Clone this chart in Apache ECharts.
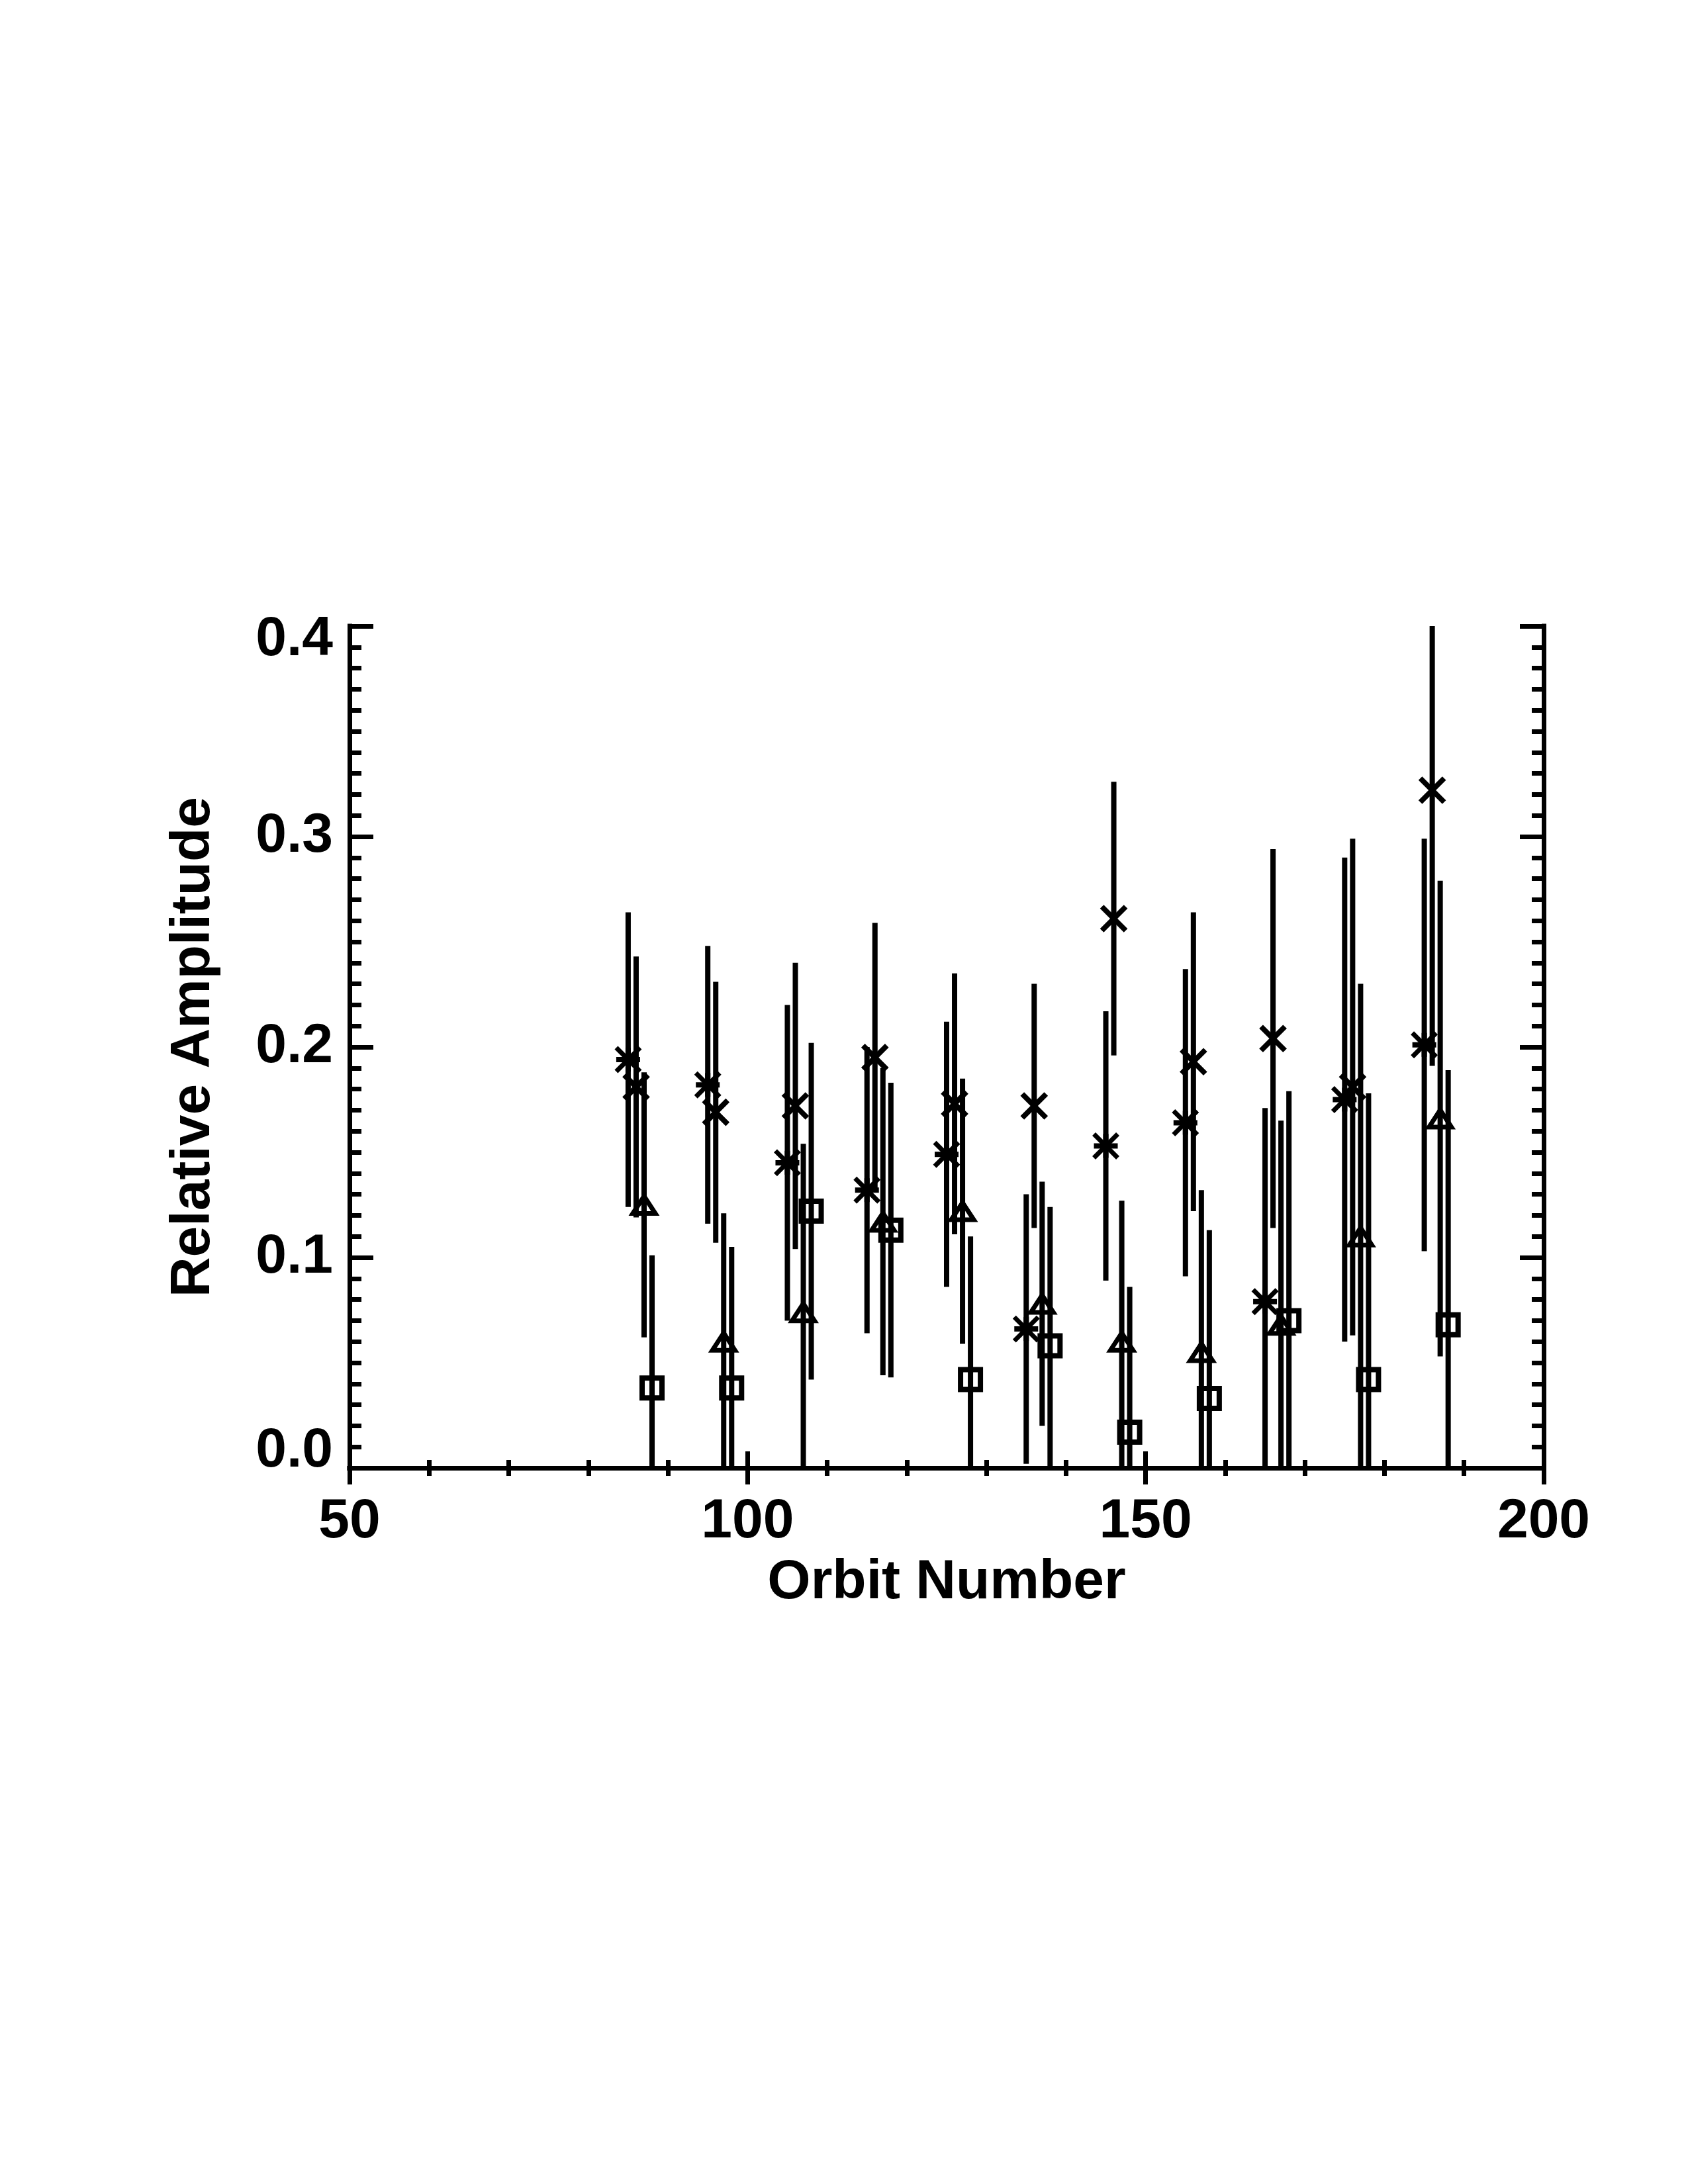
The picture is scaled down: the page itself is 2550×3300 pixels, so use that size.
<!DOCTYPE html>
<html>
<head>
<meta charset="utf-8">
<script src="https://cdn.jsdelivr.net/npm/echarts@6/dist/echarts.min.js"></script>
<style>
html, body { margin: 0; padding: 0; background: #ffffff; }
#chart { width: 2550px; height: 3300px; }
</style>
</head>
<body>
<div id="chart"></div>
<script>
// ---- Data ----
const xTickLabels = [50, 100, 150, 200];
const yTickLabels = ['0.0', '0.1', '0.2', '0.3', '0.4'];

// asterisk series
const orbitAst = [85, 95, 105, 115, 125, 135, 145, 155, 165, 175, 185];
const ampAst   = [0.194, 0.182, 0.145, 0.132, 0.149, 0.066, 0.153, 0.164, 0.079, 0.175, 0.201];
const errAst   = [0.070, 0.066, 0.075, 0.068, 0.063, 0.064, 0.064, 0.073, 0.092, 0.115, 0.098];

// X series
const orbitX = [86, 96, 106, 116, 126, 136, 146, 156, 166, 176, 186];
const ampX   = [0.181, 0.169, 0.172, 0.195, 0.173, 0.172, 0.261, 0.193, 0.204, 0.181, 0.322];
const errX   = [0.062, 0.062, 0.068, 0.064, 0.062, 0.058, 0.065, 0.071, 0.090, 0.118, 0.131];

// triangle series
const orbitTri = [87, 97, 107, 117, 127, 137, 147, 157, 167, 177, 187];
const ampTri   = [0.125, 0.060, 0.074, 0.117, 0.122, 0.078, 0.060, 0.055, 0.068, 0.110, 0.166];
const errTri   = [0.063, 0.061, 0.080, 0.073, 0.063, 0.058, 0.067, 0.077, 0.097, 0.120, 0.113];

// square series
const orbitSq = [88, 98, 108, 118, 128, 138, 148, 158, 168, 178, 188];
const ampSq   = [0.038, 0.038, 0.122, 0.113, 0.042, 0.058, 0.017, 0.033, 0.070, 0.042, 0.068];
const errSq   = [0.063, 0.067, 0.080, 0.070, 0.068, 0.066, 0.069, 0.080, 0.109, 0.136, 0.121];

const X_MIN = xTickLabels[0], X_MAX = xTickLabels[xTickLabels.length - 1];
const Y_MIN = parseFloat(yTickLabels[0]), Y_MAX = parseFloat(yTickLabels[yTickLabels.length - 1]);

// ---- Styling ----
const FONT = '"Liberation Sans", Arial, Helvetica, sans-serif';
const BLACK = '#000000';
const AXIS_W = 7;
const BAR_W = 8;
const SYM_W = 7;

function symbolShapes(kind, c) {
  const cx = c[0], cy = c[1];
  const out = [];
  const ln = (x1, y1, x2, y2, w) => ({
    type: 'line',
    shape: { x1: x1, y1: y1, x2: x2, y2: y2 },
    style: { stroke: BLACK, lineWidth: w || SYM_W, lineCap: 'butt' }
  });
  if (kind === 'ast') {
    const r = 18;
    out.push(ln(cx - r, cy, cx + r, cy, 8));
    out.push(ln(cx, cy - r, cx, cy + r, 8));
    out.push(ln(cx - r, cy - r, cx + r, cy + r));
    out.push(ln(cx - r, cy + r, cx + r, cy - r));
  } else if (kind === 'x') {
    const r = 18;
    out.push(ln(cx - r, cy - r, cx + r, cy + r, 8));
    out.push(ln(cx - r, cy + r, cx + r, cy - r, 8));
  } else if (kind === 'tri') {
    out.push({
      type: 'polygon',
      shape: { points: [[cx - 17, cy + 13], [cx, cy - 13], [cx + 17, cy + 13]] },
      style: { fill: 'none', stroke: BLACK, lineWidth: SYM_W, lineJoin: 'miter' }
    });
  } else if (kind === 'sq') {
    out.push({
      type: 'rect',
      shape: { x: cx - 15, y: cy - 15, width: 30, height: 30 },
      style: { fill: 'none', stroke: BLACK, lineWidth: 8 }
    });
  }
  return out;
}

function makeRender(kind) {
  return function (params, api) {
    const x = api.value(0), v = api.value(1), e = api.value(2);
    const lo = Math.max(v - e, Y_MIN), hi = Math.min(v + e, Y_MAX);
    const pLo = api.coord([x, lo]);
    const pHi = api.coord([x, hi]);
    const c = api.coord([x, v]);
    const children = [{
      type: 'line',
      shape: { x1: pLo[0], y1: pLo[1], x2: pHi[0], y2: pHi[1] },
      style: { stroke: BLACK, lineWidth: BAR_W, lineCap: 'butt' }
    }].concat(symbolShapes(kind, c));
    return { type: 'group', children: children };
  };
}

function seriesOf(kind, orbit, amp, err) {
  return {
    type: 'custom',
    xAxisIndex: 0,
    yAxisIndex: 0,
    clip: true,
    renderItem: makeRender(kind),
    encode: { x: 0, y: 1 },
    data: orbit.map((o, i) => [o, amp[i], err[i]]),
    z: 5
  };
}

const axisLineStyle = { show: true, lineStyle: { color: BLACK, width: AXIS_W, cap: 'square' } };
const labelStyle = { color: BLACK, fontSize: 84, fontWeight: 'bold', fontFamily: FONT };

const xCommon = {
  type: 'value', min: X_MIN, max: X_MAX, interval: 50,
  axisLine: axisLineStyle,
  axisTick: { show: true, inside: true, length: 25, lineStyle: { color: BLACK, width: AXIS_W } },
  minorTick: { show: true, splitNumber: 5, length: 12, lineStyle: { color: BLACK, width: AXIS_W } },
  splitLine: { show: false },
  minorSplitLine: { show: false }
};
const yCommon = {
  type: 'value', min: Y_MIN, max: Y_MAX, interval: 0.1,
  axisLine: axisLineStyle,
  axisTick: { show: true, inside: true, length: 36, lineStyle: { color: BLACK, width: AXIS_W } },
  minorTick: { show: true, splitNumber: 10, length: 18, lineStyle: { color: BLACK, width: AXIS_W } },
  splitLine: { show: false },
  minorSplitLine: { show: false }
};

const option = {
  backgroundColor: '#ffffff',
  animation: false,
  grid: { left: 528, right: 218, top: 946, bottom: 1082, containLabel: false },
  xAxis: [
    Object.assign({}, xCommon, {
      position: 'bottom',
      axisLabel: Object.assign({ show: true, margin: 40, formatter: v => String(v) }, labelStyle),
      name: 'Orbit Number',
      nameLocation: 'middle',
      nameGap: 132,
      nameTextStyle: labelStyle
    }),
    Object.assign({}, xCommon, { position: 'top', axisLabel: { show: false } })
  ],
  yAxis: [
    Object.assign({}, yCommon, {
      position: 'left',
      axisLabel: Object.assign({
        show: true,
        margin: 25,
        formatter: function (v) {
          const idx = Math.round(v * 10);
          const t = yTickLabels[idx];
          if (idx === 0) return '{lo|' + t + '}';
          if (idx === yTickLabels.length - 1) return '{hi|' + t + '}';
          return t;
        },
        rich: {
          lo: Object.assign({ padding: [0, 0, 50, 0] }, labelStyle),
          hi: Object.assign({ padding: [42, 0, 0, 0] }, labelStyle)
        }
      }, labelStyle),
      name: 'Relative Amplitude',
      nameLocation: 'middle',
      nameGap: 193,
      nameTextStyle: labelStyle
    }),
    Object.assign({}, yCommon, { position: 'right', axisLabel: { show: false } })
  ],
  series: [
    seriesOf('ast', orbitAst, ampAst, errAst),
    seriesOf('x', orbitX, ampX, errX),
    seriesOf('tri', orbitTri, ampTri, errTri),
    seriesOf('sq', orbitSq, ampSq, errSq)
  ]
};

const chart = echarts.init(document.getElementById('chart'), null, { renderer: 'canvas', width: 2550, height: 3300 });
chart.setOption(option);
</script>
</body>
</html>
